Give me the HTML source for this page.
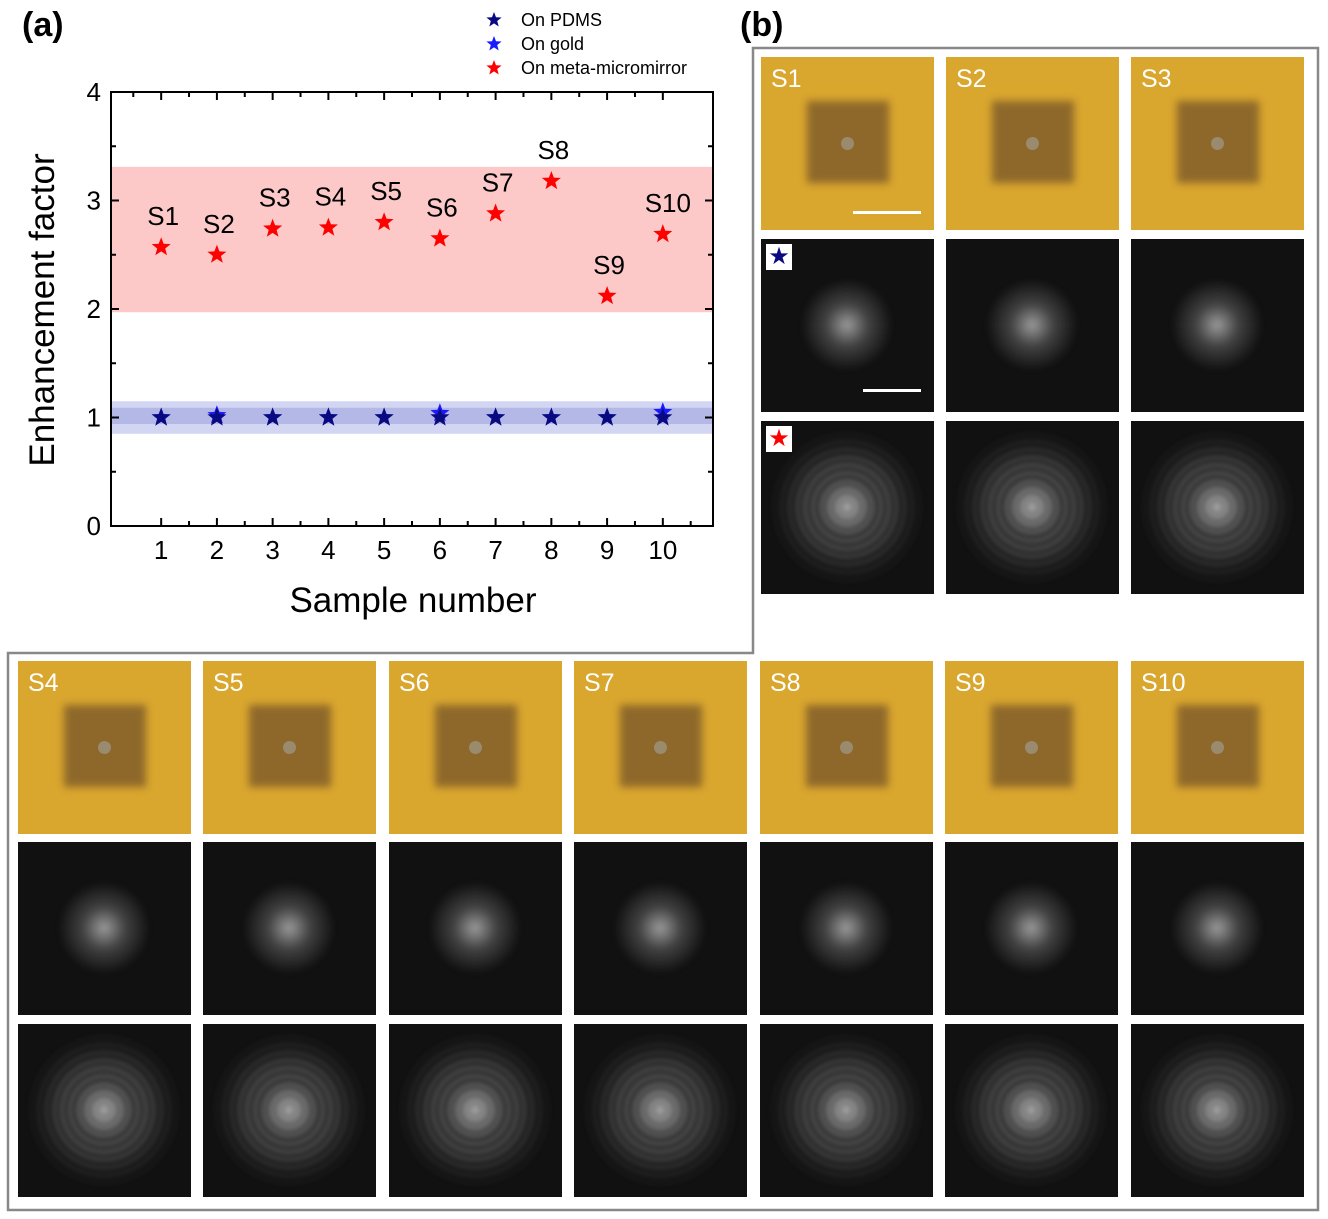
<!DOCTYPE html>
<html><head><meta charset="utf-8"><style>
html,body{margin:0;padding:0;background:#fff;width:1328px;height:1219px;overflow:hidden;font-family:"Liberation Sans",sans-serif}
#root{position:relative;width:1328px;height:1219px}
.tile{position:absolute;width:173px;height:173px;overflow:hidden}
.opt{background:#d9a62e}
.sq{position:absolute;left:46px;top:44px;width:82px;height:82px;background:#86622a;filter:blur(4px);opacity:.9}
.dot{position:absolute;left:80px;top:80px;width:13px;height:13px;border-radius:50%;background:#9a8a6e}
.lbl{position:absolute;left:10px;top:8px;color:#fff;font-size:25px}
.dark{background:#111}
.blob{position:absolute;left:36px;top:36px;width:100px;height:100px;border-radius:50%;filter:blur(3px)}
.ring{position:absolute;left:6px;top:6px;width:160px;height:160px;border-radius:50%;filter:blur(2px)}
.badge{position:absolute;left:5px;top:5px;width:26px;height:26px;background:#fff;text-align:center;font-size:24px;line-height:26px}
</style></head><body><div id="root">
<svg id="chart" width="1328" height="1219" style="position:absolute;left:0;top:0">
<path d="M753,48 H1318 V1210 H8 V653 H753 Z" fill="none" stroke="#888" stroke-width="2.5"/>
<text x="22" y="36" font-size="34" font-weight="bold" font-family="Liberation Sans">(a)</text>
<text x="740" y="36" font-size="34" font-weight="bold" font-family="Liberation Sans">(b)</text>
<g id="plot"></g>
</svg>
<div id="tiles"></div>
</div>
<script>
const categories=[1,2,3,4,5,6,7,8,9,10];
const pdmsValues=[1,1,1,1,1,1,1,1,1,1];
const goldValues=[1.0,1.02,1.0,1.0,1.0,1.04,1.0,1.0,1.0,1.05];
const metaValues=[2.57,2.50,2.74,2.75,2.80,2.65,2.88,3.18,2.12,2.69];
const sampleLabels=["S1","S2","S3","S4","S5","S6","S7","S8","S9","S10"];
const yTicks=[0,1,2,3,4];
const redBand=[1.97,3.31];
const blueBandOuter=[0.85,1.15];
const blueBandInner=[0.94,1.09];
const L=111,R=713,T=92,B=526;
const xs=v=>L+(v-0.1)/(10.8)*(R-L);
const ys=v=>B-v/4*(B-T);
const NS="http://www.w3.org/2000/svg";
const g=document.getElementById('plot');
function mk(tag,attrs,parent){const e=document.createElementNS(NS,tag);for(const k in attrs)e.setAttribute(k,attrs[k]);(parent||g).appendChild(e);return e;}
function starPath(cx,cy,r){let d="";for(let i=0;i<10;i++){const a=-Math.PI/2+i*Math.PI/5;const rr=i%2?r*0.42:r;d+=(i?"L":"M")+(cx+rr*Math.cos(a)).toFixed(1)+","+(cy+rr*Math.sin(a)).toFixed(1);}return d+"Z";}
let e;
e=mk('rect',{x:L,y:ys(redBand[1]),width:R-L,height:ys(redBand[0])-ys(redBand[1]),fill:'#fcc8c8'});


e=mk('rect',{x:L,y:ys(blueBandOuter[1]),width:R-L,height:ys(blueBandOuter[0])-ys(blueBandOuter[1]),fill:'#d2d6f2'});


e=mk('rect',{x:L,y:ys(blueBandInner[1]),width:R-L,height:ys(blueBandInner[0])-ys(blueBandInner[1]),fill:'#b3b8e6'});


e=mk('rect',{x:L,y:T,width:R-L,height:B-T,fill:'none',stroke:'#000','stroke-width':2});


yTicks.forEach(v=>{
  mk('line',{x1:L,x2:L+8,y1:ys(v),y2:ys(v),stroke:'#000','stroke-width':2});
  mk('line',{x1:R,x2:R-8,y1:ys(v),y2:ys(v),stroke:'#000','stroke-width':2});
  if(v<4){mk('line',{x1:L,x2:L+5,y1:ys(v+0.5),y2:ys(v+0.5),stroke:'#000','stroke-width':2});mk('line',{x1:R,x2:R-5,y1:ys(v+0.5),y2:ys(v+0.5),stroke:'#000','stroke-width':2});}
  const t=mk('text',{x:L-10,y:ys(v)+9,'text-anchor':'end','font-size':26,'font-family':'Liberation Sans'});t.textContent=v;
  
  
});
categories.forEach(c=>{
  mk('line',{x1:xs(c),x2:xs(c),y1:B,y2:B-8,stroke:'#000','stroke-width':2});
  mk('line',{x1:xs(c),x2:xs(c),y1:T,y2:T+8,stroke:'#000','stroke-width':2});
  mk('line',{x1:xs(c+0.5),x2:xs(c+0.5),y1:B,y2:B-5,stroke:'#000','stroke-width':2});
  mk('line',{x1:xs(c-0.5),x2:xs(c-0.5),y1:T,y2:T+5,stroke:'#000','stroke-width':2});
  const t=mk('text',{x:xs(c),y:B+33,'text-anchor':'middle','font-size':26,'font-family':'Liberation Sans'});t.textContent=c;
  
  
});
categories.forEach((c,i)=>{
  let s=mk('path',{d:starPath(xs(c),ys(goldValues[i]),10),fill:'#1a1aff'});
  
  
  s=mk('path',{d:starPath(xs(c),ys(pdmsValues[i]),10),fill:'#0a0a80'});
  
  
  s=mk('path',{d:starPath(xs(c),ys(metaValues[i]),10),fill:'#ff0000'});
  
  
  const t=mk('text',{x:xs(c)+(i==9?5:2),y:ys(metaValues[i])-22,'text-anchor':'middle','font-size':26,'font-family':'Liberation Sans'});t.textContent=sampleLabels[i];
  
  
});
e=mk('text',{x:413,y:612,'text-anchor':'middle','font-size':35,'font-family':'Liberation Sans'});e.textContent='Sample number';


e=mk('text',{x:0,y:0,'text-anchor':'middle','font-size':35,'font-family':'Liberation Sans',transform:'translate(54,310) rotate(-90)'});e.textContent='Enhancement factor';


[['On PDMS','#0a0a80'],['On gold','#1a1aff'],['On meta-micromirror','#ff0000']].forEach((l,i)=>{
  const y=20+i*24;
  const s=mk('path',{d:starPath(494,y,8),fill:l[1]});
  
  
  const t=mk('text',{x:521,y:y+6,'font-size':18,'font-family':'Liberation Sans'});t.textContent=l[0];
  
  
});
// image tiles
const tiles=document.getElementById('tiles');
const topCols=[761,946,1131],topRows=[57,239,421];
const botCols=[18,203,389,574,760,945,1131],botRows=[661,842,1024];
function tile(x,y,type,label,badge){
  const d=document.createElement('div');
  d.className='tile '+(type==='opt'?'opt':'dark');
  d.style.left=x+'px';d.style.top=y+'px';
  
  
  if(type==='opt'){d.innerHTML='<div class="sq"></div><div class="dot"></div><div class="lbl">'+label+'</div>';}
  else if(type==='ref'){d.innerHTML='<div class="blob" style="background:radial-gradient(circle,rgba(200,200,200,.75) 0,rgba(140,140,140,.4) 30%,rgba(17,17,17,0) 65%)"></div>';}
  else{d.innerHTML='<div class="ring" style="background:radial-gradient(circle,rgba(210,210,210,.7) 0,rgba(120,120,120,.35) 25%,rgba(17,17,17,0) 70%),repeating-radial-gradient(circle,rgba(90,90,90,.5) 0 4px,rgba(20,20,20,.2) 4px 8px);-webkit-mask:radial-gradient(circle,#000 40%,transparent 70%);mask:radial-gradient(circle,#000 40%,transparent 70%)"></div>';}
  if(badge){const b=document.createElement('div');b.className='badge';b.style.color=badge;b.textContent='★';d.appendChild(b);}
  tiles.appendChild(d);
}
topCols.forEach((x,i)=>{tile(x,topRows[0],'opt',sampleLabels[i]);tile(x,topRows[1],'ref','',i==0?'#0a0a80':null);tile(x,topRows[2],'meta','',i==0?'#ff0000':null);});
botCols.forEach((x,i)=>{tile(x,botRows[0],'opt',sampleLabels[i+3]);tile(x,botRows[1],'ref');tile(x,botRows[2],'meta');});
// scale bars
[[853,211,68],[863,389,58]].forEach(s=>{const b=document.createElement('div');b.style.cssText='position:absolute;left:'+s[0]+'px;top:'+s[1]+'px;width:'+s[2]+'px;height:3px;background:#fff';tiles.appendChild(b);});
</script>
</body></html>
